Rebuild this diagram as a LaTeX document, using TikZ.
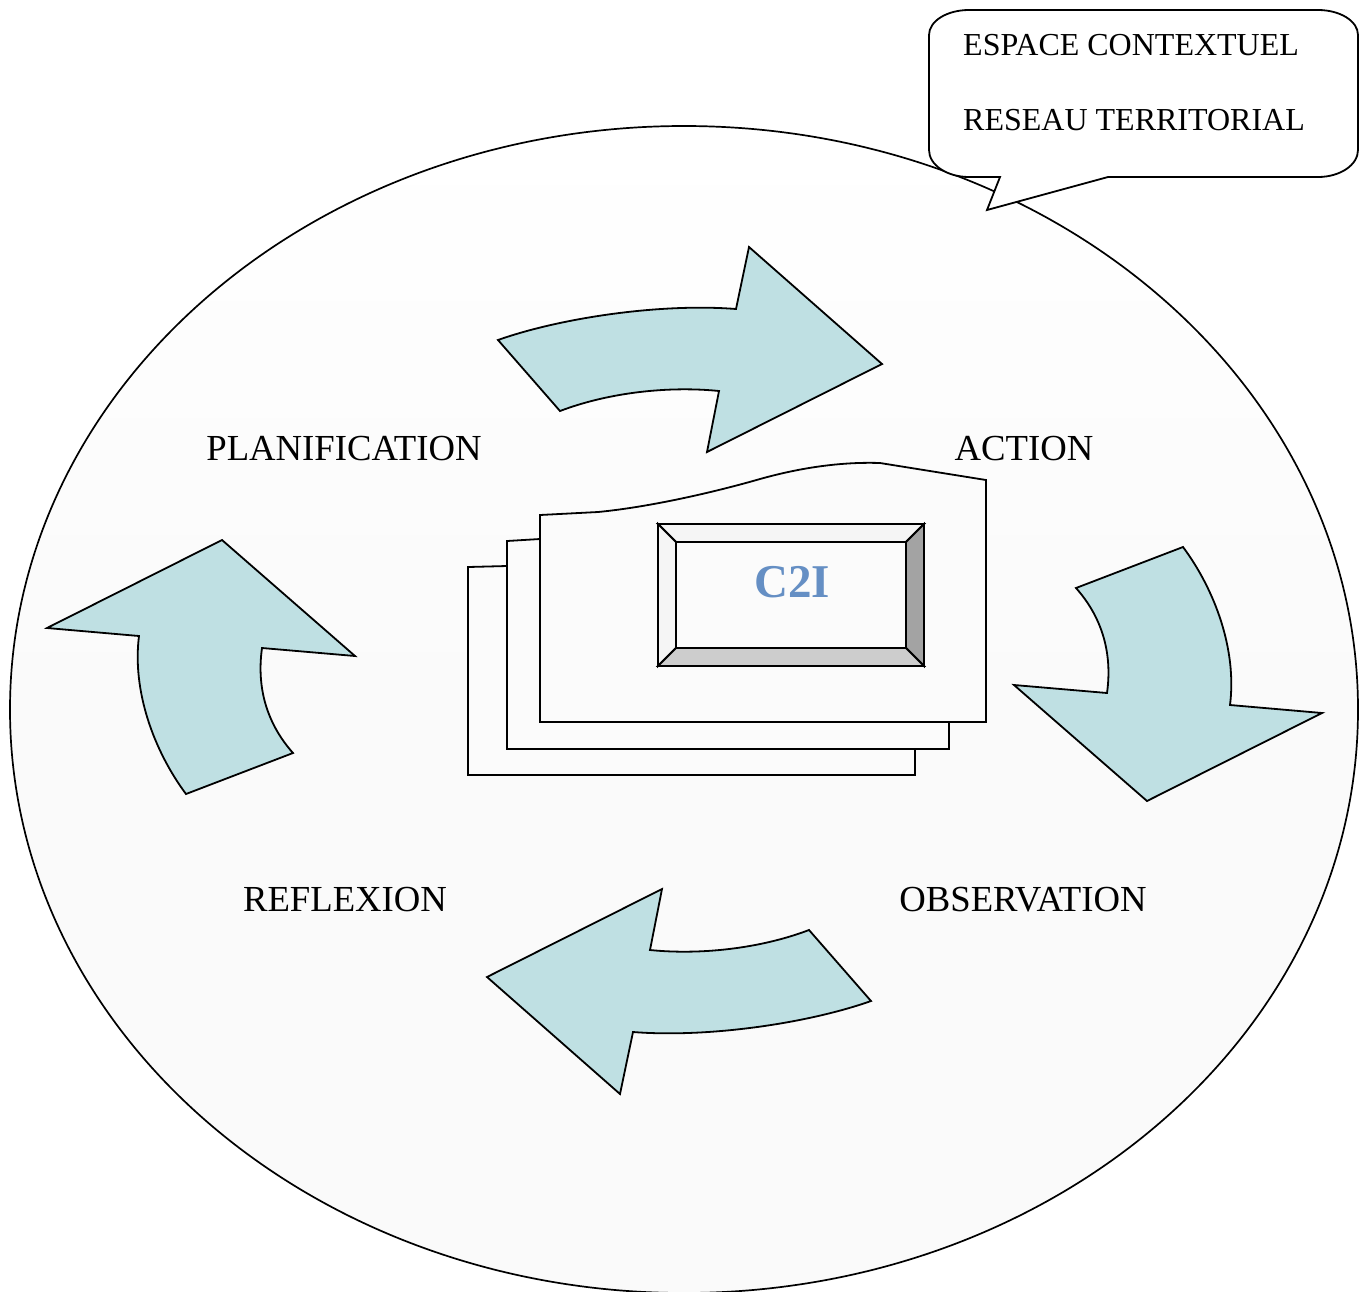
\documentclass[tikz,border=0pt]{standalone}
\usepackage{fontspec}
\setmainfont{Liberation Serif}
\definecolor{arrowfill}{RGB}{191,224,227}
\definecolor{bgfill}{RGB}{250,250,250}
\definecolor{pagefill}{RGB}{251,251,251}
\definecolor{c2iblue}{RGB}{101,143,196}
\definecolor{bevlight}{RGB}{245,245,245}
\definecolor{bevdark}{RGB}{163,163,163}
\definecolor{bevmid}{RGB}{205,205,205}
\begin{document}
\begin{tikzpicture}[x=1pt,y=-1pt,
  outline/.style={draw=black,line width=1.8pt,line join=miter},
  bigarrow/.style={outline,fill=arrowfill},
  pagebox/.style={outline,fill=pagefill},
  label/.style={anchor=base,inner sep=0pt,font=\fontsize{36.7}{40}\selectfont},
  calltext/.style={anchor=base west,inner sep=0pt,font=\fontsize{32}{36}\selectfont}]
\useasboundingbox (0,0) rectangle (1368,1291);
\clip (0,0) rectangle (1368,1291);
% background ellipse
\shade[top color=white,bottom color=bgfill,middle color=bgfill] (684,709.5) ellipse [x radius=674pt,y radius=583.5pt];
\draw[line width=1.7pt] (684,709.5) ellipse [x radius=674pt,y radius=583.5pt];
% callout
\draw[outline,fill=white] (969,10) -- (1318,10)
  .. controls (1340,10) and (1358,21) .. (1358,35) -- (1358,150)
  .. controls (1358,165) and (1340,177) .. (1318,177) -- (1108,177) -- (987,210) -- (1000,177) -- (969,177)
  .. controls (947,177) and (929,165) .. (929,150) -- (929,35)
  .. controls (929,21) and (947,10) .. (969,10) -- cycle;
\node[calltext] (esp) at (963,55) {ESPACE CONTEXTUEL};
\node[calltext] (res) at (963,130) {RESEAU TERRITORIAL};
% curved arrows
\def\toparrow{(498,340) .. controls (560,318) and (660,303) .. (736,309) -- (749,247) -- (882,364) -- (707,452) -- (719,391) .. controls (670,386) and (610,392) .. (560,411) -- cycle}
\def\rightarrow{(1183,547) -- (1076,588) .. controls (1100,615) and (1113,650) .. (1107,693) -- (1014,685) -- (1147,801) -- (1322,713) -- (1230,705) .. controls (1237,650) and (1215,590) .. (1183,547) -- cycle}
\draw[bigarrow] \toparrow;
\draw[bigarrow] \rightarrow;
\begin{scope}[rotate around={180:(684.5,670.5)}]
\draw[bigarrow] \toparrow;
\draw[bigarrow] \rightarrow;
\end{scope}
% labels
\node[label] (plan) at (344,460) {PLANIFICATION};
\node[label] (act) at (1024,460) {ACTION};
\node[label] (refl) at (345,911) {REFLEXION};
\node[label] (obs) at (1023,911) {OBSERVATION};
% multidocument
\draw[pagebox] (468,775) -- (468,567) -- (507,566) -- (915,560) -- (915,775) -- cycle;
\draw[pagebox] (507,749) -- (507,541) -- (540,539) -- (949,530) -- (949,749) -- cycle;
\draw[pagebox] (540,722) -- (540,515) -- (598,512)
  .. controls (650,507) and (715,492) .. (760,479)
  .. controls (810,465) and (850,462) .. (880,463) -- (986,480) -- (986,722) -- cycle;
% bevel box
\draw[outline,fill=bevlight] (658,524) -- (924,524) -- (906,542) -- (676,542) -- cycle;
\draw[outline,fill=bevlight] (658,524) -- (676,542) -- (676,648) -- (658,666) -- cycle;
\draw[outline,fill=bevdark] (924,524) -- (924,666) -- (906,648) -- (906,542) -- cycle;
\draw[outline,fill=bevmid] (658,666) -- (924,666) -- (906,648) -- (676,648) -- cycle;
\draw[outline,fill=pagefill] (676,542) rectangle (906,648);
\node[anchor=base,inner sep=0pt,text=c2iblue,font=\fontsize{47}{50}\selectfont\bfseries] (c2i) at (792,597) {C2I};
\end{tikzpicture}
\end{document}
